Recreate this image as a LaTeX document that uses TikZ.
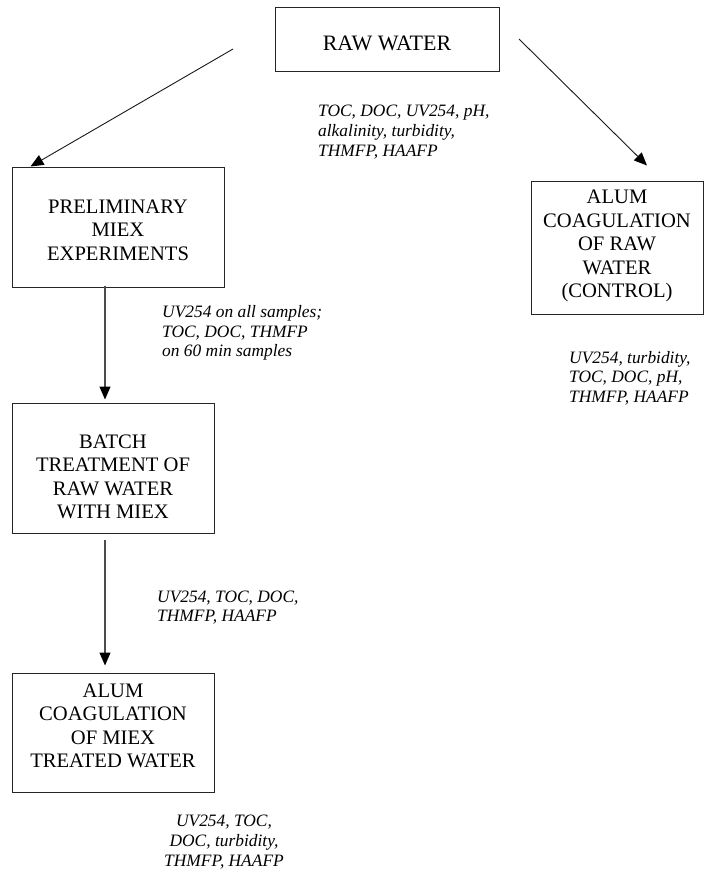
\documentclass[tikz,border=0pt]{standalone}
\usepackage{fontspec}
\setmainfont{Liberation Serif}
\usetikzlibrary{arrows.meta}
\begin{document}
\begin{tikzpicture}[x=1pt,y=-1pt,
  box/.style={draw=black!85,line width=1pt,inner sep=0pt},
  boxtext/.style={font=\fontsize{20.6}{23.5}\selectfont,align=center,inner sep=0pt},
  lab/.style={font=\itshape\fontsize{17.4}{19.7}\selectfont,align=left,inner sep=0pt,anchor=west},
  labc/.style={font=\itshape\fontsize{17.4}{19.7}\selectfont,align=center,inner sep=0pt},
  tip/.style={-{Triangle[length=13pt,width=11pt,fill=black,color=black]}},
  diag/.style={draw=black!90,line width=0.9pt,tip},
  vert/.style={draw=black!70,line width=1.2pt,tip}]
\useasboundingbox (0,0) rectangle (713,873);
\fill[white] (0,0) rectangle (713,873);

% boxes
\node[box,minimum width=224pt,minimum height=64pt] (raw) at (387,39) {};
\node[boxtext,font=\fontsize{22}{24}\selectfont] (rawt) at (387,43) {RAW WATER};

\node[box,minimum width=212pt,minimum height=120pt] (prelim) at (118,227) {};
\node[boxtext] (prelimt) at (118,230) {PRELIMINARY\\MIEX\\EXPERIMENTS};

\node[box,minimum width=172pt,minimum height=133pt] (alumr) at (617,247.5) {};
\node[boxtext] (alumrt) at (617,246) {ALUM\\COAGULATION\\OF RAW\\WATER\\(CONTROL)};

\node[box,minimum width=202pt,minimum height=130pt] (batch) at (113,468) {};
\node[boxtext] (batcht) at (113,477) {BATCH\\TREATMENT OF\\RAW WATER\\WITH MIEX};

\node[box,minimum width=202pt,minimum height=119pt] (alumb) at (113,732.5) {};
\node[boxtext] (alumbt) at (113,726) {ALUM\\COAGULATION\\OF MIEX\\TREATED WATER};

% labels
\node[lab] (l1) at (318,132) {TOC, DOC, UV254, pH,\\alkalinity, turbidity,\\THMFP, HAAFP};
\node[lab] (l2) at (162,333) {UV254 on all samples;\\TOC, DOC, THMFP\\on 60 min samples};
\node[lab] (l3) at (569,378) {UV254, turbidity,\\TOC, DOC, pH,\\THMFP, HAAFP};
\node[lab] (l4) at (157,607.5) {UV254, TOC, DOC,\\THMFP, HAAFP};
\node[labc] (l5) at (224,842) {UV254, TOC,\\DOC, turbidity,\\THMFP, HAAFP};

% connectors
\coordinate (ls) at (233,49);
\coordinate (rs) at (519,39);
\draw[diag] (ls) -- ([xshift=19pt]prelim.north west);
\draw[diag] (rs) -- ([xshift=30pt,yshift=15pt]alumr.north);
\draw[vert] ([xshift=-13pt,yshift=2pt]prelim.south) -- ([xshift=-8pt,yshift=3pt]batch.north);
\draw[vert] ([xshift=-8pt,yshift=-6pt]batch.south) -- ([xshift=-8pt,yshift=7pt]alumb.north);
\end{tikzpicture}
\end{document}
